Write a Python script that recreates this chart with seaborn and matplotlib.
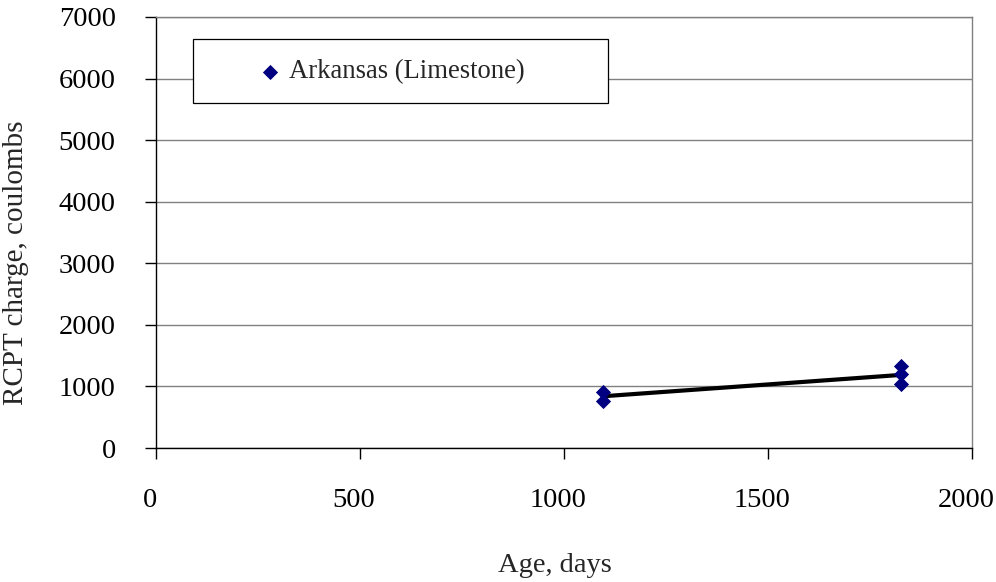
import matplotlib
matplotlib.use("Agg")
import matplotlib.pyplot as plt
from matplotlib.patches import Rectangle
from matplotlib.transforms import ScaledTranslation
import seaborn as sns
import pandas as pd

# RCPT charge measurements for Arkansas limestone concrete
age_days = [1095, 1095, 1825, 1825, 1825]
charge_coulombs = [915, 765, 1330, 1195, 1035]
series_name = "Arkansas (Limestone)"

x_ticks = [0, 500, 1000, 1500, 2000]
y_ticks = [0, 1000, 2000, 3000, 4000, 5000, 6000, 7000]

df = pd.DataFrame({"age": age_days, "charge": charge_coulombs})
means = df.groupby("age", as_index=False)["charge"].mean()

sns.set_style("white")
plt.rcParams["font.family"] = ["Liberation Serif", "DejaVu Serif"]

W, H = 996, 582
FS = 20.5

fig = plt.figure(figsize=(W / 100, H / 100), dpi=100)
L, R, T, B = 156, 972, 17, 448
ax = fig.add_axes([L / W, 1 - B / H, (R - L) / W, (B - T) / H])

# trend line through the mean at each age
sns.lineplot(data=means, x="age", y="charge", ax=ax, color="black",
             linewidth=3.0, legend=False, zorder=3)
sns.scatterplot(data=df, x="age", y="charge", ax=ax, marker="D", s=60,
                color="#000080", edgecolor="#000080", linewidth=0,
                label=series_name, zorder=4)

ax.set_xlim(0, 2000)
ax.set_ylim(0, 7000)
ax.set_xticks(x_ticks)
ax.set_yticks(y_ticks)
ax.yaxis.grid(True, color="#808080", linewidth=1)
ax.xaxis.grid(False)
ax.set_axisbelow(True)

for side in ["left", "bottom"]:
    ax.spines[side].set_color("black")
    ax.spines[side].set_linewidth(1)
for side in ["top", "right"]:
    ax.spines[side].set_color("#808080")
    ax.spines[side].set_linewidth(1)

ax.tick_params(axis="both", direction="out", length=8, width=1, color="black",
               labelsize=FS, labelcolor="black")
ax.tick_params(axis="x", pad=20.5)
ax.tick_params(axis="y", pad=21)
ax.tick_params(bottom=True, left=True)

# nudge the x tick labels slightly left so the last one stays on the canvas
shift = ScaledTranslation(-6 / 100, 0, fig.dpi_scale_trans)
for lbl in ax.get_xticklabels():
    lbl.set_transform(lbl.get_transform() + shift)

ax.set_xlabel("Age, days", fontsize=FS)
ax.xaxis.set_label_coords((555 - L) / (R - L), (B - 565) / (B - T))
ax.xaxis.label.set_va("center")
ax.set_ylabel("RCPT charge, coulombs", fontsize=21)
ax.yaxis.set_label_coords((16 - L) / (R - L), (B - 263) / (B - T))
ax.yaxis.label.set_va("center")
ax.yaxis.label.set_ha("center")

# legend: framed box with the entry placed inside it
box = Rectangle((193 / W, 1 - 103 / H), (608 - 193) / W, (103 - 39) / H,
                transform=fig.transFigure, facecolor="white", edgecolor="black",
                linewidth=0.9, zorder=5)
ax.add_artist(box)
box.set_clip_on(False)
leg = ax.legend(loc="center left", bbox_to_anchor=(257 / W, 1 - 72 / H),
                bbox_transform=fig.transFigure, frameon=False, fontsize=19.2,
                borderpad=0, borderaxespad=0, handlelength=1.0,
                handletextpad=0.2, markerscale=1.0)
leg.set_zorder(6)

fig.savefig("out.png", dpi=100)
